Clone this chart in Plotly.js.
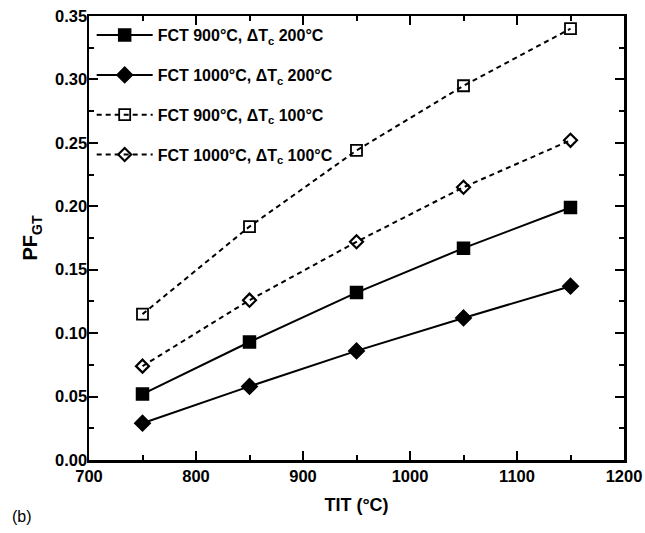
<!DOCTYPE html>
<html><head><meta charset="utf-8">
<script src="https://cdn.plot.ly/plotly-3.0.1.min.js"></script>
<style>body{margin:0;background:#fff}#plot{width:645px;height:533px}</style>
</head><body><div id="plot"></div>
<script>
const tit = [750, 850, 950, 1050, 1150];
const fct900_dt200 = [0.052, 0.093, 0.132, 0.167, 0.199];
const fct1000_dt200 = [0.029, 0.058, 0.086, 0.112, 0.137];
const fct900_dt100 = [0.115, 0.184, 0.244, 0.295, 0.340];
const fct1000_dt100 = [0.074, 0.126, 0.172, 0.215, 0.252];
const names = ["FCT 900°C, ΔT<sub>c</sub> 200°C", "FCT 1000°C, ΔT<sub>c</sub> 200°C",
               "FCT 900°C, ΔT<sub>c</sub> 100°C", "FCT 1000°C, ΔT<sub>c</sub> 100°C"];
const FONT = "Liberation Sans, Arial, sans-serif";
function tr(y, name, sym, dash, size, lw, g) {
  return {x: tit, y: y, name: name, mode: "lines+markers", legendgroup: g,
    line: {color: "#000", width: 2, dash: dash},
    marker: {symbol: sym, size: size, color: "#000",
             line: {color: "#000", width: lw}}};
}
const data = [
  tr(fct900_dt200, names[0], "square", "solid", 12, 1.5, "a"),
  tr(fct1000_dt200, names[1], "diamond", "solid", 12, 1.5, "b"),
  tr(fct900_dt100, names[2], "square-open", "5px,4px", 11, 1.8, "c"),
  tr(fct1000_dt100, names[3], "diamond-open", "5px,4px", 10, 2.2, "d")
];
const axBase = {showline: true, linewidth: 2.5, linecolor: "#000", mirror: "allticks",
  ticks: "inside", ticklen: 9, tickwidth: 2, tickcolor: "#000", showgrid: false, zeroline: false,
  tickfont: {family: FONT, size: 16.5, color: "#000", weight: "bold"},
  minor: {ticks: "inside", ticklen: 5, tickwidth: 2, tickcolor: "#000", showgrid: false}};
const layout = {
  width: 645, height: 533, paper_bgcolor: "#fff", plot_bgcolor: "#fff",
  margin: {l: 89, r: 21, t: 16, b: 73},
  showlegend: true,
  legend: {x: 0.005, y: 0.995, xanchor: "left", yanchor: "top", bgcolor: "rgba(0,0,0,0)",
    traceorder: "grouped", tracegroupgap: 16, itemwidth: 56,
    font: {family: FONT, size: 16, color: "#000", weight: "bold"}},
  xaxis: Object.assign({}, axBase, {range: [700, 1200], dtick: 100, tick0: 700,
    minor: Object.assign({}, axBase.minor, {dtick: 50}),
    title: {text: "TIT (°C)", standoff: 14, font: {family: FONT, size: 18, color: "#000", weight: "bold"}}}),
  yaxis: Object.assign({}, axBase, {range: [0, 0.35], dtick: 0.05, tickformat: ".2f", ticklabelstandoff: -4,
    minor: Object.assign({}, axBase.minor, {dtick: 0.025}),
    title: {text: "PF<sub>GT</sub>", standoff: 12, font: {family: FONT, size: 20, color: "#000", weight: "bold"}}}),
  annotations: [{text: "(b)", xref: "paper", yref: "paper", x: -0.148, y: -0.128, xanchor: "left", yanchor: "middle",
    showarrow: false, font: {family: FONT, size: 16, color: "#000"}}]
};
Plotly.newPlot("plot", data, layout, {displayModeBar: false, staticPlot: true});
</script></body></html>
